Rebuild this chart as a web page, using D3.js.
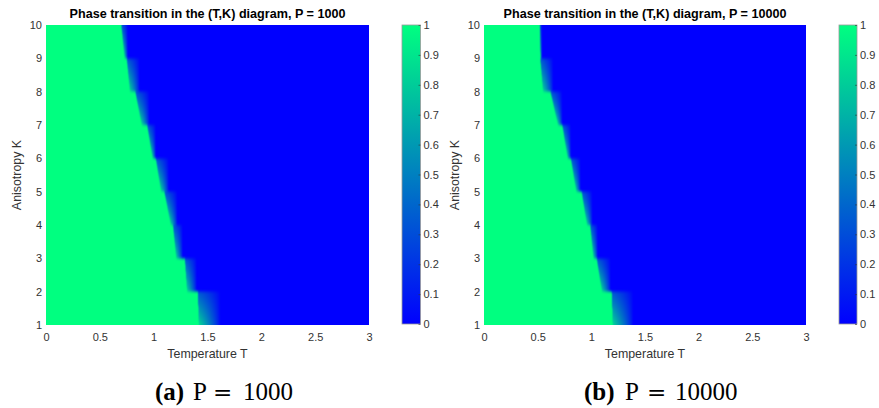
<!DOCTYPE html>
<html>
<head>
<meta charset="utf-8">
<script src="https://cdn.jsdelivr.net/npm/d3@7"></script>
<style>
  html, body { margin: 0; padding: 0; background: #fff; }
  svg { display: block; }
</style>
</head>
<body>
<script>
// Axis ticks
const tTicks = [0, 0.5, 1, 1.5, 2, 2.5, 3];
const kTicks = [1, 2, 3, 4, 5, 6, 7, 8, 9, 10];
const cbTicks = [0, 0.1, 0.2, 0.3, 0.4, 0.5, 0.6, 0.7, 0.8, 0.9, 1];

// Phase boundary in each anisotropy band [K, K+1], K = 1..9:
// ordered-phase edge at the lower and upper row of the band,
// and where the mixed (partially ordered) region ends.
const edgeLowA  = [1.42, 1.31, 1.21, 1.16, 1.07, 0.99, 0.89, 0.78, 0.73];
const edgeHighA = [1.41, 1.29, 1.18, 1.10, 1.02, 0.94, 0.83, 0.75, 0.70];
const mixEndA   = [1.62, 1.40, 1.27, 1.22, 1.14, 1.02, 0.96, 0.87, 0.76];

const edgeLowB  = [1.20, 1.10, 1.02, 0.96, 0.86, 0.78, 0.69, 0.55, 0.525];
const edgeHighB = [1.19, 1.05, 0.99, 0.91, 0.81, 0.73, 0.62, 0.525, 0.52];
const mixEndB   = [1.39, 1.18, 1.06, 1.01, 0.90, 0.81, 0.73, 0.645, 0.54];

const titles = [
  "Phase transition in the (T,K) diagram, P = 1000",
  "Phase transition in the (T,K) diagram, P = 10000"
];
const captionTags = ["(a)", "(b)"];
const captionValues = ["1000", "10000"];

const SANS = "'Liberation Sans', Arial, sans-serif";
const SERIF = "'Liberation Serif', 'Times New Roman', serif";

const W = 879, H = 408;
const svg = d3.select("body").append("svg").attr("width", W).attr("height", H);
const defs = svg.append("defs");

// MATLAB "winter" colormap: blue -> spring green
const color = d3.scaleLinear().domain([0, 1]).range(["#0000ff", "#00ff80"]);

const panels = [
  { id: "a", plot: [46, 369], cb: [402, 420.5], ylabX: 21,
    edgeLow: edgeLowA, edgeHigh: edgeHighA, mixEnd: mixEndA,
    title: titles[0], tag: captionTags[0], value: captionValues[0],
    cap: { tag: 155, p: 193, eq: 213, num: 243 } },
  { id: "b", plot: [484, 806], cb: [839, 857], ylabX: 459,
    edgeLow: edgeLowB, edgeHigh: edgeHighB, mixEnd: mixEndB,
    title: titles[1], tag: captionTags[1], value: captionValues[1],
    cap: { tag: 584, p: 625, eq: 647, num: 675 } }
];

const plotTop = 25, plotBottom = 325;

// Order parameter at (T, K): 1 in the ordered phase, 0 in the disordered
// phase, partial values in the mixed strip just above the transition.
function phaseValue(T, K, p) {
  let n = Math.floor(K);
  if (n < 1) n = 1;
  if (n > 9) n = 9;
  const s = Math.min(Math.max(K - n, 0), 1);
  const i = n - 1;
  const edge = p.edgeLow[i] + (p.edgeHigh[i] - p.edgeLow[i]) * s;
  if (T <= edge) return 1;
  const end = p.mixEnd[i];
  if (T >= end) return 0;
  const h = (end - T) / (end - edge);
  const peak = 0.85 * (1 - 0.6 * s);
  return Math.min(1, peak * Math.pow(h, 0.8));
}

// Separable box blur with clamped borders (shading smoothing)
function boxBlur(src, w, h, rx, ry) {
  const tmp = new Float32Array(w * h), out = new Float32Array(w * h);
  for (let j = 0; j < h; j++) {
    for (let i = 0; i < w; i++) {
      let sum = 0;
      for (let d = -rx; d <= rx; d++) sum += src[j * w + Math.min(w - 1, Math.max(0, i + d))];
      tmp[j * w + i] = sum / (2 * rx + 1);
    }
  }
  for (let j = 0; j < h; j++) {
    for (let i = 0; i < w; i++) {
      let sum = 0;
      for (let d = -ry; d <= ry; d++) sum += tmp[Math.min(h - 1, Math.max(0, j + d)) * w + i];
      out[j * w + i] = sum / (2 * ry + 1);
    }
  }
  return out;
}

panels.forEach(p => {
  const x = d3.scaleLinear().domain([0, 3]).range(p.plot);
  const y = d3.scaleLinear().domain([1, 10]).range([plotBottom, plotTop]);
  const g = svg.append("g");

  // Heat map raster (2x supersampled, lightly smoothed)
  const ss = 2;
  const pw = Math.round((p.plot[1] - p.plot[0]) * ss);
  const ph = Math.round((plotBottom - plotTop) * ss);
  let field = new Float32Array(pw * ph);
  for (let j = 0; j < ph; j++) {
    const K = y.invert(plotTop + (j + 0.5) / ss);
    for (let i = 0; i < pw; i++) {
      const T = x.invert(p.plot[0] + (i + 0.5) / ss);
      field[j * pw + i] = phaseValue(T, K, p);
    }
  }
  field = boxBlur(field, pw, ph, 1, 3);
  field = boxBlur(field, pw, ph, 1, 3);

  const canvas = document.createElement("canvas");
  canvas.width = pw; canvas.height = ph;
  const ctx = canvas.getContext("2d");
  const img = ctx.createImageData(pw, ph);
  for (let k = 0; k < pw * ph; k++) {
    const c = d3.rgb(color(field[k]));
    img.data[4 * k] = c.r; img.data[4 * k + 1] = c.g; img.data[4 * k + 2] = c.b; img.data[4 * k + 3] = 255;
  }
  ctx.putImageData(img, 0, 0);
  g.append("image")
    .attr("href", canvas.toDataURL())
    .attr("x", x(0)).attr("y", y(10))
    .attr("width", x(3) - x(0)).attr("height", y(1) - y(10))
    .attr("preserveAspectRatio", "none");

  // Axes
  const fmt = d => String(d);
  const xAxis = g.append("g").attr("transform", `translate(0,${plotBottom})`)
    .call(d3.axisBottom(x).tickValues(tTicks).tickSize(0).tickPadding(8).tickFormat(fmt));
  const yAxis = g.append("g").attr("transform", `translate(${p.plot[0]},0)`)
    .call(d3.axisLeft(y).tickValues(kTicks).tickSize(0).tickPadding(4).tickFormat(fmt));
  [xAxis, yAxis].forEach(a => {
    a.select(".domain").remove();
    a.selectAll("text").attr("fill", "#333")
      .style("font-family", SANS).style("font-size", "11px");
  });

  // Title and axis labels
  g.append("text").attr("x", (p.plot[0] + p.plot[1]) / 2).attr("y", 18)
    .attr("text-anchor", "middle").attr("fill", "#000")
    .style("font-family", SANS).style("font-size", "12.6px").style("font-weight", "bold")
    .text(p.title);
  g.append("text").attr("x", (p.plot[0] + p.plot[1]) / 2).attr("y", 357.5)
    .attr("text-anchor", "middle").attr("fill", "#333")
    .style("font-family", SANS).style("font-size", "12.4px")
    .text("Temperature T");
  g.append("text")
    .attr("transform", `translate(${p.ylabX},${(plotTop + plotBottom) / 2}) rotate(-90)`)
    .attr("text-anchor", "middle").attr("fill", "#333")
    .style("font-family", SANS).style("font-size", "12.4px")
    .text("Anisotropy K");

  // Colorbar
  const cy = d3.scaleLinear().domain([0, 1]).range([324, plotTop]);
  const gradId = "cbgrad-" + p.id;
  const grad = defs.append("linearGradient").attr("id", gradId)
    .attr("x1", 0).attr("y1", 1).attr("x2", 0).attr("y2", 0);
  grad.selectAll("stop").data(cbTicks).join("stop")
    .attr("offset", d => d).attr("stop-color", d => color(d));
  g.append("rect")
    .attr("x", p.cb[0]).attr("y", cy(1))
    .attr("width", p.cb[1] - p.cb[0]).attr("height", cy(0) - cy(1))
    .attr("fill", `url(#${gradId})`)
    .attr("stroke", "#9a9a9a").attr("stroke-width", 0.8);
  const cbAxis = g.append("g").attr("transform", `translate(${p.cb[1]},0)`)
    .call(d3.axisRight(cy).tickValues(cbTicks).tickSize(-2).tickPadding(3).tickFormat(fmt));
  cbAxis.select(".domain").remove();
  cbAxis.selectAll(".tick line").attr("stroke", "#333").attr("stroke-width", 0.6);
  cbAxis.selectAll("text").attr("fill", "#333")
    .style("font-family", SANS).style("font-size", "11px");

  // Sub-figure caption
  const capY = 400;
  g.append("text").attr("x", p.cap.tag).attr("y", capY).attr("fill", "#000")
    .style("font-family", SERIF).style("font-size", "25px").style("font-weight", "bold")
    .text(p.tag);
  g.append("text").attr("x", p.cap.p).attr("y", capY).attr("fill", "#000")
    .style("font-family", SERIF).style("font-size", "25px")
    .text("P");
  g.append("text").attr("x", p.cap.eq).attr("y", capY).attr("fill", "#000")
    .style("font-family", "'DejaVu Serif', serif").style("font-size", "23px")
    .text("=");
  g.append("text").attr("x", p.cap.num).attr("y", capY).attr("fill", "#000")
    .style("font-family", SERIF).style("font-size", "25px")
    .text(p.value);
});
</script>
</body>
</html>
